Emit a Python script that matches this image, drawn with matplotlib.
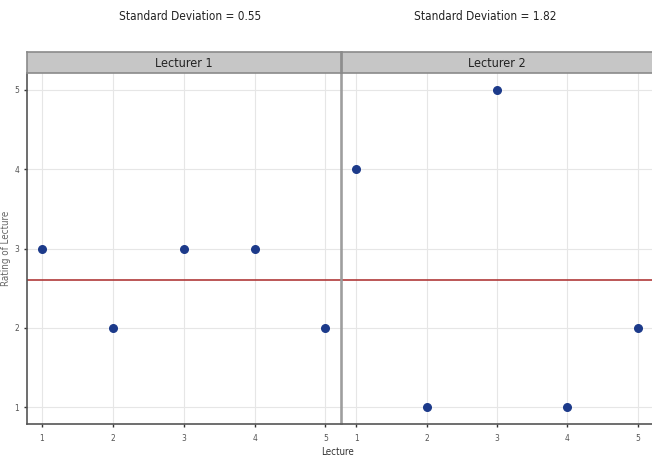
import matplotlib
matplotlib.use('Agg')
import matplotlib.pyplot as plt

# data
lectures = [1, 2, 3, 4, 5]
lecturer1 = [3, 2, 3, 3, 2]
lecturer2 = [4, 1, 5, 1, 2]
panel_names = ["Lecturer 1", "Lecturer 2"]
sd_titles = ["Standard Deviation = 0.55", "Standard Deviation = 1.82"]
grand_mean = 2.6

plt.rcParams['font.family'] = ['DejaVu Sans']
plt.rcParams['font.stretch'] = 'condensed'

fig = plt.figure(figsize=(6.52, 4.59), dpi=100)
W, H = 652.0, 459.0

def box(x0, y0, x1, y1):
    return [x0 / W, 1 - y1 / H, (x1 - x0) / W, (y1 - y0) / H]

panels = [
    (27, 341, (0.79, 5.22), lecturer1),
    (342, 652, (0.8, 5.2), lecturer2),
]

point_color = '#1c3a8a'
for i, (x0, x1, xl, vals) in enumerate(panels):
    ax = fig.add_axes(box(x0, 73, x1, 424))
    ax.set_xlim(*xl)
    ax.set_ylim(0.79, 5.21)
    ax.set_xticks(lectures)
    ax.set_yticks([1, 2, 3, 4, 5])
    ax.grid(True, color='#e6e6e6', linewidth=0.8)
    ax.set_axisbelow(True)
    ax.axhline(grand_mean, color='#b03a3a', linewidth=1.2)
    ax.scatter(lectures, vals, s=30, color=point_color, zorder=3)
    ax.tick_params(labelsize=6, colors='#333333', labelcolor='#555555',
                   length=2.5, width=1, pad=5)
    ax.tick_params(axis='y', pad=3)
    ax.spines['top'].set_visible(False)
    ax.spines['bottom'].set_color('#555555')
    ax.spines['bottom'].set_linewidth(1.2)
    if i == 0:
        ax.spines['left'].set_color('#555555')
        ax.spines['left'].set_linewidth(1.2)
        ax.spines['right'].set_color('#999999')
        ax.spines['right'].set_linewidth(1.1)
    else:
        ax.spines['left'].set_color('#999999')
        ax.spines['left'].set_linewidth(1.1)
        ax.spines['right'].set_visible(False)
        ax.tick_params(axis='y', left=False, labelleft=False)

    # facet strip
    st = fig.add_axes(box(x0, 52, x1, 73))
    st.set_xticks([])
    st.set_yticks([])
    st.set_facecolor('#c6c6c6')
    for s in st.spines.values():
        s.set_color('#8a8a8a')
        s.set_linewidth(1.2)
    if i == 1:
        st.spines['right'].set_visible(False)
    st.text(0.5, 0.45, panel_names[i], ha='center', va='center',
            fontsize=9, color='#222222', transform=st.transAxes)

fig.text(190 / W, 1 - 16 / H, sd_titles[0], ha='center', va='center',
         fontsize=8.5, color='#222222')
fig.text(485 / W, 1 - 16 / H, sd_titles[1], ha='center', va='center',
         fontsize=8.5, color='#222222')
fig.text(338 / W, 1 - 452 / H, "Lecture", ha='center', va='center',
         fontsize=7, color='#333333')
fig.text(6 / W, 1 - 248 / H, "Rating of Lecture", ha='center', va='center',
         rotation=90, fontsize=7, color='#666666')

fig.savefig('out.png', dpi=100)
